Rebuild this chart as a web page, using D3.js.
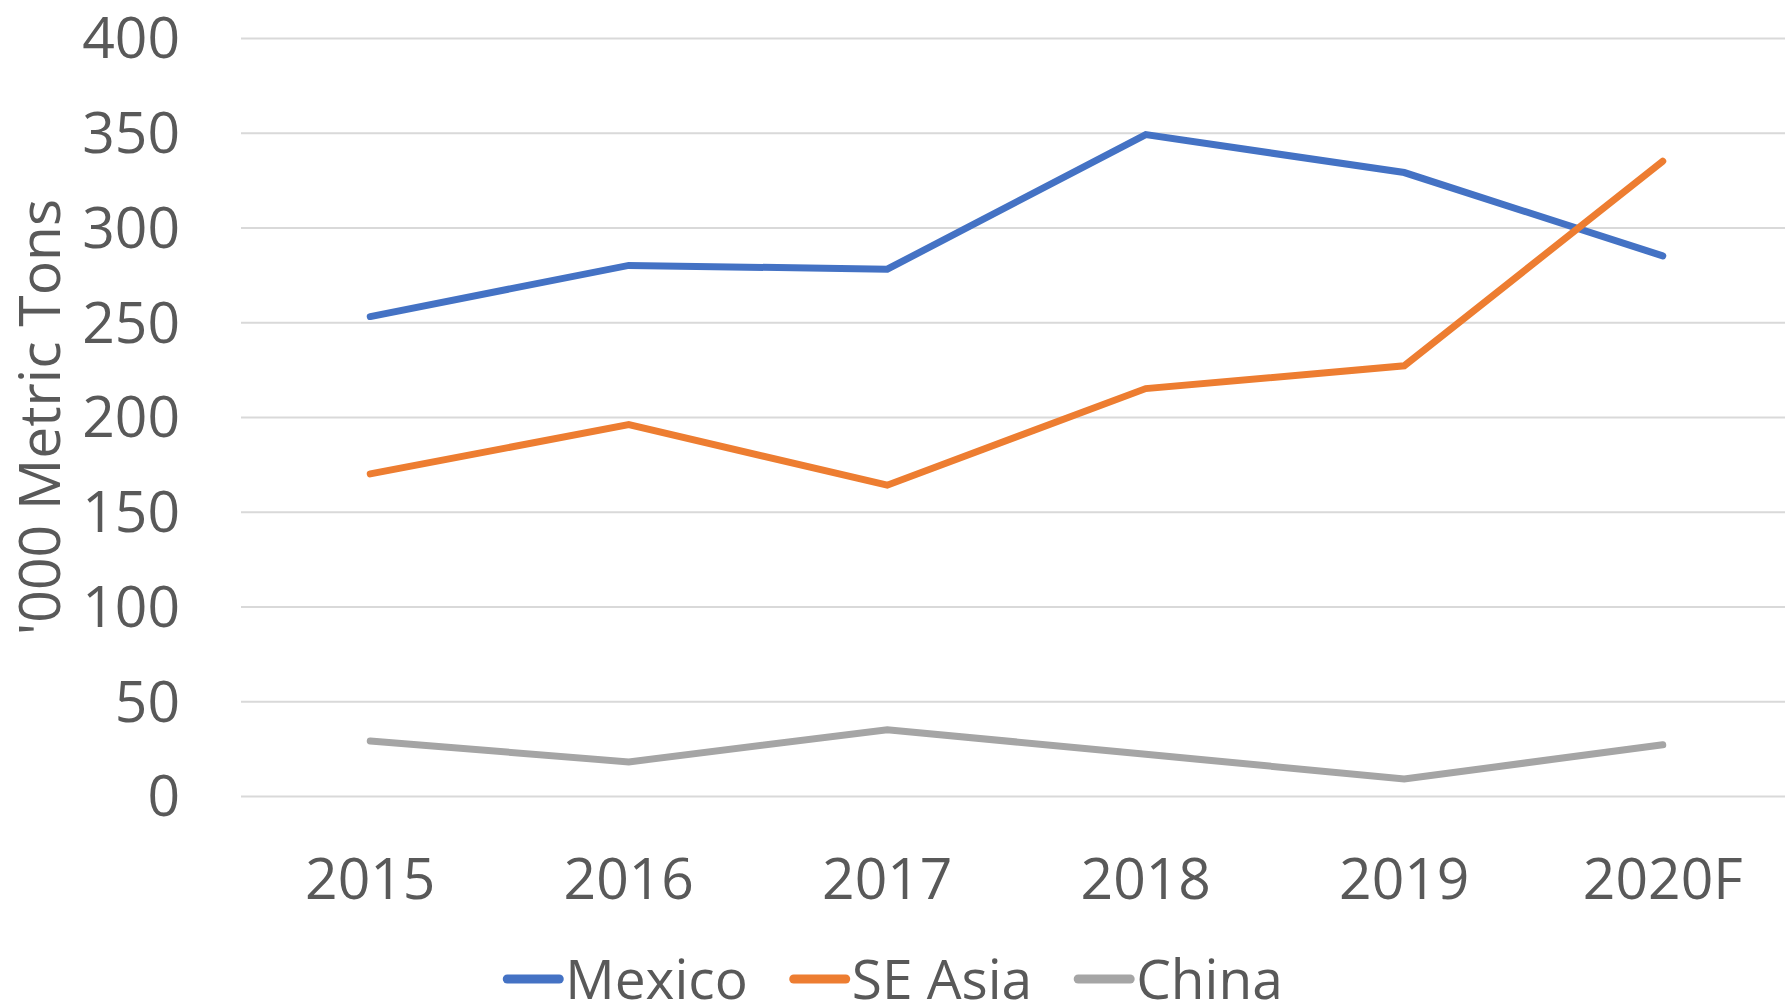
<!DOCTYPE html>
<html>
<head>
<meta charset="utf-8">
<script src="https://cdnjs.cloudflare.com/ajax/libs/d3/7.8.5/d3.min.js"></script>
<style>
	body { margin: 0; background: #fff; }
	text { font-family: "Open Sans", "Liberation Sans", sans-serif; fill: #595959; }
</style>
</head>
<body>
<div id="chart-area"></div>
<script>
var years = ["2015", "2016", "2017", "2018", "2019", "2020F"];
var mexico = [253, 280, 278, 349, 329, 285];
var seAsia = [170, 196, 164, 215, 227, 335];
var china = [29, 18, 35, 22, 9, 27];
var seriesNames = ["Mexico", "SE Asia", "China"];
var seriesColors = ["#4472C4", "#ED7D31", "#A5A5A5"];
var yTicks = [0, 50, 100, 150, 200, 250, 300, 350, 400];

var series = [mexico, seAsia, china];

var width = 1785, height = 1002;
var plotLeft = 241, plotRight = 1792, plotTop = 38, plotBottom = 796;

var svg = d3.select("#chart-area").append("svg")
	.attr("width", width)
	.attr("height", height);

var x = d3.scaleBand()
	.domain(years)
	.range([plotLeft, plotRight]);

var y = d3.scaleLinear()
	.domain([0, 400])
	.range([plotBottom, plotTop]);

// gridlines
svg.append("g")
	.attr("transform", "translate(" + plotLeft + ",0)")
	.call(d3.axisLeft(y).tickValues(yTicks).tickSize(-(plotRight - plotLeft)).tickFormat(""))
	.call(g => g.select(".domain").remove())
	.selectAll("line")
	.attr("stroke", "#D9D9D9")
	.attr("stroke-width", 1.8);

// y tick labels
svg.append("g")
	.attr("transform", "translate(180,0)")
	.call(d3.axisLeft(y).tickValues(yTicks).tickSize(0).tickPadding(0))
	.call(g => g.select(".domain").remove())
	.selectAll("text")
	.attr("font-size", 57)
	.attr("dy", "0.35em")
	.style("fill", "#595959");

// x tick labels
svg.append("g")
	.attr("transform", "translate(0," + plotBottom + ")")
	.call(d3.axisBottom(x).tickSize(0).tickPadding(0))
	.call(g => g.select(".domain").remove())
	.selectAll("text")
	.attr("font-size", 57)
	.attr("dy", "0")
	.attr("y", 103)
	.style("fill", "#595959");

// y axis title
svg.append("text")
	.attr("transform", "translate(60," + (plotTop + plotBottom) / 2 + ") rotate(-90)")
	.attr("text-anchor", "middle")
	.attr("font-size", 57)
	.text("'000 Metric Tons");

var line = d3.line()
	.x((d, i) => x(years[i]) + x.bandwidth() / 2)
	.y(d => y(d));

for (let i = 0; i < series.length; i++)
{
	svg.append("path")
		.datum(series[i])
		.attr("d", line)
		.attr("fill", "none")
		.attr("stroke", seriesColors[i])
		.attr("stroke-width", 7)
		.attr("stroke-linecap", "round");
}

// legend
var legend = svg.append("g");
var pos = 0;
for (let i = 0; i < seriesNames.length; i++)
{
	legend.append("line")
		.attr("x1", pos + 5).attr("x2", pos + 57)
		.attr("y1", 0).attr("y2", 0)
		.attr("stroke", seriesColors[i])
		.attr("stroke-width", 9)
		.attr("stroke-linecap", "round");
	var t = legend.append("text")
		.attr("x", pos + 63)
		.attr("y", 20)
		.attr("font-size", 55)
		.text(seriesNames[i]);
	pos = pos + 63 + t.node().getComputedTextLength() + 41;
}
pos = pos - 41;
legend.attr("transform", "translate(" + (width / 2 - pos / 2) + ",979)");
</script>
</body>
</html>
